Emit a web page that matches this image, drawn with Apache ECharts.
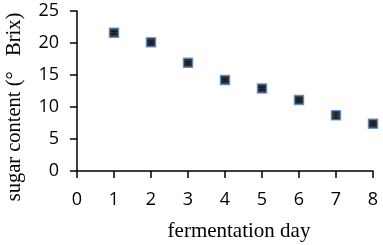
<!DOCTYPE html>
<html>
<head>
<meta charset="utf-8">
<script src="https://cdn.jsdelivr.net/npm/echarts@6/dist/echarts.min.js"></script>
<style>
  html, body { margin: 0; padding: 0; background: #fff; }
  #chart { width: 383px; height: 245px; }
</style>
</head>
<body>
<div id="chart"></div>
<script>
const days = [1, 2, 3, 4, 5, 6, 7, 8];
const sugar = [21.6, 20.1, 16.9, 14.2, 12.9, 11.1, 8.7, 7.4];
const errors = [0.2, 0.2, 0.2, 0.2, 0.2, 0.2, 0.6, 0.2];
const xTicks = [0, 1, 2, 3, 4, 5, 6, 7, 8];
const yTicks = [0, 5, 10, 15, 20, 25];

const chart = echarts.init(document.getElementById("chart"));

const points = days.map((d, i) => [d, sugar[i]]);
const bars = days.map((d, i) => [d, sugar[i] - errors[i], sugar[i] + errors[i]]);

const option = {
  animation: false,
  grid: { left: 77, right: 10, top: 11, bottom: 74, outerBoundsMode: "none", containLabel: false },
  xAxis: {
    type: "value",
    min: xTicks[0],
    max: xTicks[xTicks.length - 1],
    interval: 1,
    name: "fermentation day",
    nameLocation: "middle",
    nameGap: 50,
    nameTextStyle: { fontFamily: "Liberation Serif", fontSize: 21, color: "#000", padding: [0, 0, 0, 28] },
    axisLine: { lineStyle: { color: "#000", width: 1.5 } },
    axisTick: { length: 7, lineStyle: { color: "#000", width: 1.5 } },
    axisLabel: { fontFamily: "Open Sans", fontSize: 18, color: "#000", margin: 20 },
    splitLine: { show: false }
  },
  yAxis: {
    type: "value",
    min: yTicks[0],
    max: yTicks[yTicks.length - 1],
    interval: 5,
    name: "sugar content (°   Brix)",
    nameLocation: "middle",
    nameGap: 52,
    nameTextStyle: { fontFamily: "Liberation Serif", fontSize: 20.5, color: "#000", padding: [0, 32, 0, 0] },
    axisLine: { show: true, lineStyle: { color: "#000", width: 1.5 } },
    axisTick: { show: true, length: 7, lineStyle: { color: "#000", width: 1.5 } },
    axisLabel: { fontFamily: "Open Sans", fontSize: 18, color: "#000", margin: 18 },
    splitLine: { show: false }
  },
  series: [
    {
      type: "custom",
      data: bars,
      renderItem: function (params, api) {
        const x = api.value(0);
        const lo = api.coord([x, api.value(1)]);
        const hi = api.coord([x, api.value(2)]);
        const w = 4;
        const style = { stroke: "#777", lineWidth: 1.2 };
        return {
          type: "group",
          children: [
            { type: "line", shape: { x1: lo[0], y1: lo[1], x2: hi[0], y2: hi[1] }, style: style },
            { type: "line", shape: { x1: lo[0] - w, y1: lo[1], x2: lo[0] + w, y2: lo[1] }, style: style },
            { type: "line", shape: { x1: hi[0] - w, y1: hi[1], x2: hi[0] + w, y2: hi[1] }, style: style }
          ]
        };
      },
      z: 1
    },
    {
      type: "scatter",
      data: points,
      symbol: "rect",
      symbolSize: 9,
      itemStyle: { color: "#000", borderColor: "#4f86c6", borderWidth: 1.5 },
      z: 2
    }
  ]
};

chart.setOption(option);
</script>
</body>
</html>
